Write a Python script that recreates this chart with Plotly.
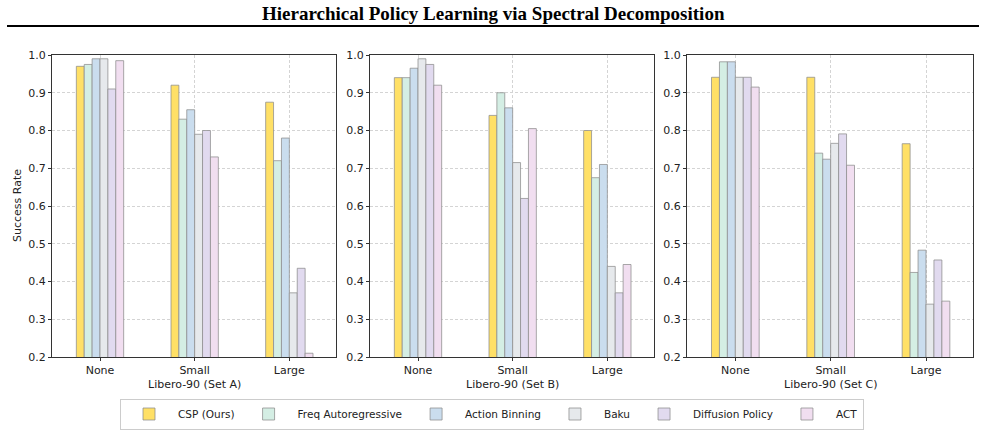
import plotly.graph_objects as go

W, H = 985, 433

categories = ["None", "Small", "Large"]
methods = ["CSP (Ours)", "Freq Autoregressive", "Action Binning", "Baku", "Diffusion Policy", "ACT"]
colors = ["#FFE066", "#D4EEE4", "#CADDEE", "#E6E9EC", "#E1DAEF", "#F1DEF0"]
panel_titles = ["Libero-90 (Set A)", "Libero-90 (Set B)", "Libero-90 (Set C)"]

# values per panel: rows = methods, cols = categories (None, Small, Large)
set_a = {
    "CSP (Ours)":          [0.970, 0.920, 0.875],
    "Freq Autoregressive": [0.975, 0.830, 0.720],
    "Action Binning":      [0.990, 0.855, 0.780],
    "Baku":                [0.990, 0.790, 0.370],
    "Diffusion Policy":    [0.910, 0.800, 0.435],
    "ACT":                 [0.985, 0.730, 0.210],
}
set_b = {
    "CSP (Ours)":          [0.940, 0.840, 0.800],
    "Freq Autoregressive": [0.940, 0.900, 0.675],
    "Action Binning":      [0.965, 0.860, 0.710],
    "Baku":                [0.990, 0.715, 0.440],
    "Diffusion Policy":    [0.975, 0.620, 0.370],
    "ACT":                 [0.920, 0.805, 0.445],
}
set_c = {
    "CSP (Ours)":          [0.941, 0.941, 0.765],
    "Freq Autoregressive": [0.982, 0.740, 0.424],
    "Action Binning":      [0.982, 0.724, 0.483],
    "Baku":                [0.941, 0.766, 0.340],
    "Diffusion Policy":    [0.941, 0.791, 0.457],
    "ACT":                 [0.915, 0.708, 0.348],
}
panels = [set_a, set_b, set_c]
y_ticks = [0.2, 0.3, 0.4, 0.5, 0.6, 0.7, 0.8, 0.9, 1.0]

FONT = "DejaVu Sans"
x_doms = [(52, 336), (370, 654), (687, 973)]
y_top, y_bot = 55, 357

fig = go.Figure()
for p, data in enumerate(panels):
    ax = "" if p == 0 else str(p + 1)
    for m, col in zip(methods, colors):
        fig.add_trace(go.Bar(
            x=list(range(len(categories))), y=data[m], name=m,
            marker=dict(color=col, line=dict(color="rgba(140,140,140,0.75)", width=1)),
            xaxis="x" + ax, yaxis="y" + ax, offsetgroup=m,
            legendgroup=m, showlegend=(p == 0),
        ))
    xd = (x_doms[p][0] / W, x_doms[p][1] / W)
    common_axis = dict(
        showline=True, linecolor="#333333", linewidth=1, mirror=True,
        ticks="outside", ticklen=3, tickcolor="#333333",
        showgrid=True, gridcolor="#d4d4d4", griddash="3px,2px", gridwidth=0.8,
        tickfont=dict(family=FONT, size=11, color="#222222"),
        zeroline=False,
    )
    fig.layout["xaxis" + ax] = dict(
        domain=xd, anchor="y" + ax, range=[-0.507, 2.493],
        tickvals=list(range(len(categories))), ticktext=categories, **common_axis,
    )
    fig.layout["yaxis" + ax] = dict(
        domain=(1 - y_bot / H, 1 - y_top / H), anchor="x" + ax,
        range=[0.2, 1.0], tickvals=y_ticks, ticktext=[f"{v:.1f}" for v in y_ticks],
        **common_axis,
    )
    fig.add_annotation(
        text=panel_titles[p], x=(xd[0] + xd[1]) / 2, y=1 - 384 / H,
        xref="paper", yref="paper", showarrow=False, xanchor="center", yanchor="middle",
        font=dict(family=FONT, size=11, color="#222222"),
    )

fig.add_annotation(
    text="Success Rate", x=18 / W, y=1 - 206 / H, xref="paper", yref="paper",
    textangle=-90, showarrow=False, xanchor="center", yanchor="middle",
    font=dict(family=FONT, size=11, color="#222222"),
)
fig.add_annotation(
    text="<b>Hierarchical Policy Learning via Spectral Decomposition</b>",
    x=493 / W, y=1 - 14 / H, xref="paper", yref="paper", showarrow=False,
    xanchor="center", yanchor="middle",
    font=dict(family="Liberation Serif", size=19, color="black"),
)
fig.add_shape(type="line", xref="paper", yref="paper",
              x0=7 / W, x1=979 / W, y0=1 - 26 / H, y1=1 - 26 / H,
              line=dict(color="black", width=2))

fig.update_layout(
    width=W, height=H, margin=dict(l=0, r=0, t=0, b=0, autoexpand=False),
    paper_bgcolor="white", plot_bgcolor="white",
    barmode="group", bargap=0.5, bargroupgap=0,
    legend=dict(
        orientation="h", x=492 / W, xanchor="center", y=1 - 414 / H, yanchor="middle",
        font=dict(family=FONT, size=10.5, color="#222222"),
        bordercolor="#cccccc", borderwidth=1, bgcolor="white",
        itemwidth=48, tracegroupgap=0,
    ),
    font=dict(family=FONT),
)

fig.write_html("out.html")
